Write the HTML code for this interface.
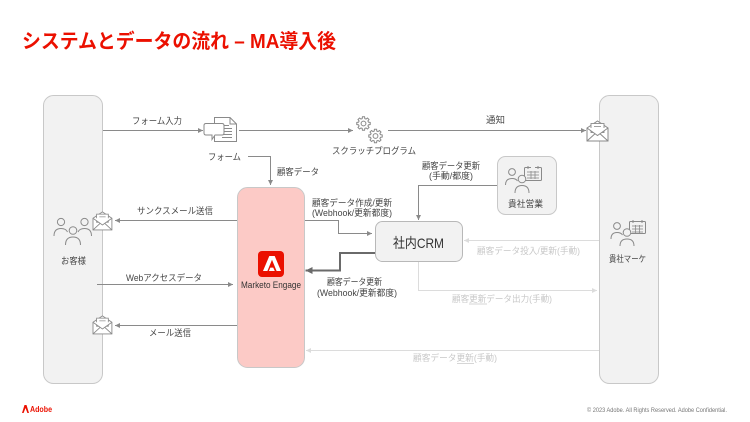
<!DOCTYPE html>
<html><head><meta charset="utf-8">
<style>
html,body{margin:0;padding:0;background:#fff;}
svg{display:block;}
text{font-family:"Liberation Sans","Noto Sans CJK JP",sans-serif;}
</style></head>
<body>
<svg width="750" height="422" viewBox="0 0 750 422" xmlns="http://www.w3.org/2000/svg">
<defs>
<marker id="ah" viewBox="0 0 6 6" refX="6" refY="3" markerWidth="5" markerHeight="5" orient="auto" markerUnits="userSpaceOnUse"><path d="M0,0 L6,3 L0,6 z" fill="#8a8a8a"/></marker>
<marker id="ahl" viewBox="0 0 6 6" refX="6" refY="3" markerWidth="5" markerHeight="5" orient="auto" markerUnits="userSpaceOnUse"><path d="M0,0 L6,3 L0,6 z" fill="#dcdcdc"/></marker>
<marker id="ahd" viewBox="0 0 6 6" refX="6" refY="3" markerWidth="7" markerHeight="7" orient="auto" markerUnits="userSpaceOnUse"><path d="M0,0 L6,3 L0,6 z" fill="#6a6a6a"/></marker>
<polygon id="gear" points=".724,-.194 .988,-.156 .988,.156 .724,.194 .650,.375 .809,.588 .588,.809 .375,.650 .194,.724 .156,.988 -.156,.988 -.194,.724 -.375,.650 -.588,.809 -.809,.588 -.650,.375 -.724,.194 -.988,.156 -.988,-.156 -.724,-.194 -.650,-.375 -.809,-.588 -.588,-.809 -.375,-.650 -.194,-.724 -.156,-.988 .156,-.988 .194,-.724 .375,-.650 .588,-.809 .809,-.588 .650,-.375"/>
<g id="env">
  <path d="M0,8 L10.5,1 L21,8 L21,21 L0,21 Z" fill="#fff" stroke="#8a8a8a" stroke-width="1"/>
  <rect x="4" y="3.5" width="13" height="9" fill="#fff" stroke="#8a8a8a" stroke-width="0.9"/>
  <line x1="7" y1="6.5" x2="14" y2="6.5" stroke="#8a8a8a" stroke-width="0.8"/>
  <line x1="7" y1="9" x2="14" y2="9" stroke="#8a8a8a" stroke-width="0.8"/>
  <path d="M0,8 L10.5,15.5 L21,8" fill="#fff" stroke="#8a8a8a" stroke-width="1"/>
  <path d="M0,21 L8,13.7 M21,21 L13,13.7" fill="none" stroke="#8a8a8a" stroke-width="1"/>
</g>
</defs>

<!-- Title -->
<text x="22" y="48" font-size="20" font-weight="bold" fill="#eb1000" textLength="314" lengthAdjust="spacingAndGlyphs">システムとデータの流れ – MA導入後</text>

<!-- Panels -->
<rect x="43.5" y="95.5" width="59" height="288" rx="10" fill="#f2f2f2" stroke="#c8c8c8" stroke-width="1"/>
<rect x="599.5" y="95.5" width="59" height="288" rx="10" fill="#f2f2f2" stroke="#c8c8c8" stroke-width="1"/>
<rect x="237.5" y="187.5" width="67" height="180" rx="10" fill="#fccac6" stroke="#c8c8c8" stroke-width="1"/>
<rect x="375.5" y="221.5" width="87" height="40" rx="7" fill="#f2f2f2" stroke="#b8b8b8" stroke-width="1"/>
<rect x="497.5" y="156.5" width="59" height="58" rx="8" fill="#f2f2f2" stroke="#c8c8c8" stroke-width="1"/>

<!-- Connectors (dark) -->
<g fill="none" stroke="#8a8a8a" stroke-width="1">
  <line x1="103" y1="130.5" x2="203" y2="130.5" marker-end="url(#ah)"/>
  <line x1="239" y1="130.5" x2="353" y2="130.5" marker-end="url(#ah)"/>
  <line x1="388" y1="130.5" x2="586" y2="130.5" marker-end="url(#ah)"/>
  <polyline points="248,156.5 270.5,156.5 270.5,185" marker-end="url(#ah)"/>
  <line x1="237" y1="220.5" x2="115" y2="220.5" marker-end="url(#ah)"/>
  <line x1="97" y1="284.5" x2="233" y2="284.5" marker-end="url(#ah)"/>
  <line x1="237" y1="325.5" x2="115" y2="325.5" marker-end="url(#ah)"/>
  <polyline points="305,220.5 338.5,220.5 338.5,233.5 372,233.5" marker-end="url(#ah)"/>
  <polyline points="497,185.5 418.5,185.5 418.5,220" marker-end="url(#ah)"/>
</g>
<polyline points="375,253 340,253 340,270.5 305.5,270.5" fill="none" stroke="#6a6a6a" stroke-width="2" marker-end="url(#ahd)"/>

<!-- Connectors (light) -->
<g fill="none" stroke="#dcdcdc" stroke-width="1">
  <line x1="599" y1="240.5" x2="464" y2="240.5" marker-end="url(#ahl)"/>
  <polyline points="418.5,262 418.5,290.5 597,290.5" marker-end="url(#ahl)"/>
  <line x1="599" y1="350.5" x2="306" y2="350.5" marker-end="url(#ahl)"/>
</g>

<!-- Form icon -->
<g stroke="#8a8a8a" stroke-width="1" fill="#fff">
  <path d="M214.5,117.5 L230,117.5 L236.5,124 L236.5,141.5 L214.5,141.5 Z"/>
  <path d="M230,117.5 L230,124 L236.5,124" fill="none"/>
  <line x1="222" y1="125.5" x2="229" y2="125.5"/>
  <line x1="222" y1="128.5" x2="232" y2="128.5"/>
  <line x1="222" y1="131.5" x2="232" y2="131.5"/>
  <line x1="222" y1="134.5" x2="232" y2="134.5"/>
  <line x1="222" y1="137.5" x2="232" y2="137.5"/>
  <path d="M206,123.5 L222,123.5 Q224,123.5 224,125.5 L224,133 Q224,135 222,135 L215,135 L212,139.5 L212,135 L206,135 Q204,135 204,133 L204,125.5 Q204,123.5 206,123.5 Z"/>
</g>

<!-- Gears -->
<g fill="#fff" stroke="#8a8a8a">
  <use href="#gear" transform="translate(363.5,123.5) scale(6.8)" stroke-width="0.15"/>
  <circle cx="363.5" cy="123.5" r="2.4" stroke-width="1"/>
  <use href="#gear" transform="translate(375.5,136) scale(6.8)" stroke-width="0.15"/>
  <circle cx="375.5" cy="136" r="2.4" stroke-width="1"/>
</g>

<!-- Envelopes -->
<use href="#env" transform="translate(587,120)"/>
<use href="#env" transform="translate(93,211) scale(0.9)"/>
<use href="#env" transform="translate(93,315) scale(0.9)"/>

<!-- Customers icon -->
<g fill="#f2f2f2" stroke="#8a8a8a" stroke-width="1">
  <circle cx="61" cy="222" r="3.6"/>
  <path d="M54,236 Q54,228.5 61,228.5 Q66,228.5 67.5,232" fill="none"/>
  <circle cx="84.5" cy="222" r="3.6"/>
  <path d="M91.5,236 Q91.5,228.5 84.5,228.5 Q79.5,228.5 78,232" fill="none"/>
  <circle cx="73" cy="230.5" r="3.8"/>
  <path d="M65.5,245 Q65.5,237 73,237 Q80.5,237 80.5,245" fill="none"/>
</g>

<!-- Sales icon (貴社営業) -->
<g fill="#f2f2f2" stroke="#8a8a8a" stroke-width="1">
  <rect x="524.5" y="167.5" width="17" height="13" rx="1"/>
  <line x1="528" y1="166" x2="528" y2="169"/><line x1="538" y1="166" x2="538" y2="169"/>
  <line x1="531" y1="167.5" x2="535" y2="167.5" stroke="#f2f2f2"/>
  <g stroke-width="0.8"><line x1="527" y1="172" x2="539" y2="172"/><line x1="527" y1="175" x2="539" y2="175"/><line x1="527" y1="178" x2="539" y2="178"/><line x1="531" y1="171" x2="531" y2="179"/><line x1="535" y1="171" x2="535" y2="179"/></g>
  <circle cx="512" cy="172" r="3.4"/>
  <path d="M505.5,185 Q505.5,178.5 512,178.5 Q516,178.5 517.5,181" fill="none"/>
  <circle cx="522" cy="179" r="3.8"/>
  <path d="M515,193 Q515,185.5 522,185.5 Q529,185.5 529,193" fill="none"/>
</g>

<!-- Marketer icon (貴社マーケ) -->
<g fill="#f2f2f2" stroke="#8a8a8a" stroke-width="1">
  <rect x="629.5" y="221.5" width="16" height="12" rx="1"/>
  <line x1="633" y1="220" x2="633" y2="223"/><line x1="642" y1="220" x2="642" y2="223"/>
  <g stroke-width="0.8"><line x1="632" y1="226" x2="643" y2="226"/><line x1="632" y1="229" x2="643" y2="229"/><line x1="632" y1="232" x2="643" y2="232"/><line x1="635.5" y1="225" x2="635.5" y2="233"/><line x1="639.5" y1="225" x2="639.5" y2="233"/></g>
  <circle cx="617" cy="226" r="3.4"/>
  <path d="M611,239 Q611,232.5 617,232.5 Q621,232.5 622.5,235" fill="none"/>
  <circle cx="627" cy="232.5" r="3.8"/>
  <path d="M620,246 Q620,239 627,239 Q634,239 634,246" fill="none"/>
</g>

<!-- Marketo logo -->
<rect x="258" y="251" width="26" height="26" rx="4" fill="#eb1000"/>
<path d="M263,271 L269.3,256 L274.7,256 L281,271 L276.6,271 L272,259.8 L267.4,271 Z" fill="#fff"/>
<path d="M270.3,267.6 L273.2,267.6 L274.8,271 L268.9,271 Z" fill="#fff"/>

<!-- Labels dark -->
<g font-size="9" fill="#444">
  <text x="132" y="124" textLength="50" lengthAdjust="spacingAndGlyphs">フォーム入力</text>
  <text x="486" y="123" textLength="19" lengthAdjust="spacingAndGlyphs">通知</text>
  <text x="208" y="160" textLength="33" lengthAdjust="spacingAndGlyphs">フォーム</text>
  <text x="332" y="154" textLength="84" lengthAdjust="spacingAndGlyphs">スクラッチプログラム</text>
  <text x="277" y="175" textLength="42" lengthAdjust="spacingAndGlyphs">顧客データ</text>
  <text x="422" y="169" textLength="58" lengthAdjust="spacingAndGlyphs">顧客データ更新</text>
  <text x="429" y="179" textLength="44" lengthAdjust="spacingAndGlyphs">(手動/都度)</text>
  <text x="508" y="207" textLength="35" lengthAdjust="spacingAndGlyphs">貴社営業</text>
  <text x="312" y="206" textLength="80" lengthAdjust="spacingAndGlyphs">顧客データ作成/更新</text>
  <text x="312" y="216" textLength="80" lengthAdjust="spacingAndGlyphs">(Webhook/更新都度)</text>
  <text x="137" y="214" textLength="76" lengthAdjust="spacingAndGlyphs">サンクスメール送信</text>
  <text x="61" y="264" textLength="25" lengthAdjust="spacingAndGlyphs">お客様</text>
  <text x="126" y="281" textLength="76" lengthAdjust="spacingAndGlyphs">Webアクセスデータ</text>
  <text x="149" y="336" textLength="42" lengthAdjust="spacingAndGlyphs">メール送信</text>
  <text x="327" y="285" textLength="55" lengthAdjust="spacingAndGlyphs">顧客データ更新</text>
  <text x="317" y="296" textLength="80" lengthAdjust="spacingAndGlyphs">(Webhook/更新都度)</text>
  <text x="609" y="262" textLength="37" lengthAdjust="spacingAndGlyphs">貴社マーケ</text>
</g>
<text x="241" y="288" font-size="9" fill="#333" textLength="60" lengthAdjust="spacingAndGlyphs">Marketo Engage</text>
<text x="393" y="248" font-size="14" fill="#333" textLength="51" lengthAdjust="spacingAndGlyphs">社内CRM</text>

<!-- Labels light -->
<g font-size="9" fill="#c8c8c8">
  <text x="477" y="254" textLength="103" lengthAdjust="spacingAndGlyphs">顧客データ投入/更新(手動)</text>
  <text x="452" y="302" textLength="100" lengthAdjust="spacingAndGlyphs">顧客更新データ出力(手動)</text>
  <text x="413" y="361" textLength="84" lengthAdjust="spacingAndGlyphs">顧客データ更新(手動)</text>
</g>
<line x1="469" y1="304" x2="487" y2="304" stroke="#c8c8c8" stroke-width="0.8"/>
<line x1="457" y1="363.5" x2="474" y2="363.5" stroke="#c8c8c8" stroke-width="0.8"/>

<!-- Footer -->
<path d="M22,413 L24.5,405 L26.5,405 L29,413 L27.4,413 L25.5,408 L23.6,413 Z" fill="#eb1000"/>
<text x="30" y="412" font-size="8" font-weight="bold" fill="#eb1000" textLength="22" lengthAdjust="spacingAndGlyphs">Adobe</text>
<text x="587" y="412" font-size="6" fill="#777" textLength="140" lengthAdjust="spacingAndGlyphs">© 2023 Adobe. All Rights Reserved. Adobe Confidential.</text>
</svg>
</body></html>
